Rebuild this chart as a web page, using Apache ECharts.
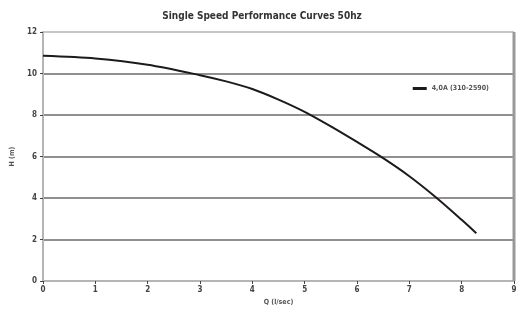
<!DOCTYPE html>
<html>
<head>
    <meta charset="utf-8">
    <title>Single Speed Performance Curves 50hz</title>
    <script src="https://cdn.jsdelivr.net/npm/echarts@6/dist/echarts.min.js"></script>
    <style>
        html, body { margin: 0; padding: 0; background: #fff; }
        #chart { width: 524px; height: 311px; }
    </style>
</head>
<body>
<div id="chart"></div>
<script type="text/javascript">
    // 曲线数据 (Q l/sec, H m)
    var flowQ = [0, 1, 2, 3, 3.5, 4, 4.5, 5, 5.5, 6, 6.5, 7, 7.5, 8, 8.28];
    var headH = [10.85, 10.72, 10.42, 9.92, 9.62, 9.25, 8.74, 8.15, 7.45, 6.7, 5.92, 5.05, 4.05, 2.95, 2.3];
    var seriesName = '4,0A (310-2590)';
    var titleText = 'Single Speed Performance Curves 50hz';

    var points = [];
    for (var i = 0; i < flowQ.length; i++) {
        points.push([flowQ[i], headH[i]]);
    }

    var font = '"Liberation Sans Narrow", "DejaVu Sans Condensed", sans-serif';
    var chart = echarts.init(document.getElementById('chart'));
    chart.setOption({
        animation: false,
        title: {
            text: titleText,
            left: 'center',
            top: 6,
            textStyle: { fontFamily: font, fontSize: 10, fontWeight: 'bold', color: '#333' }
        },
        legend: {
            data: [seriesName],
            right: 30,
            top: 80,
            itemWidth: 14,
            itemHeight: 3,
            icon: 'rect',
            textStyle: { fontFamily: font, fontSize: 7, fontWeight: 'bold', color: '#555' }
        },
        grid: {
            left: 43, right: 10, top: 32, bottom: 30,
            show: true,
            borderWidth: 0
        },
        xAxis: {
            type: 'value',
            min: 0, max: 9, interval: 1,
            name: 'Q (l/sec)',
            nameLocation: 'middle',
            nameGap: 16,
            nameTextStyle: { fontFamily: font, fontSize: 7, fontWeight: 'bold', color: '#555' },
            axisLine: { lineStyle: { color: '#b5b5b5', width: 2 } },
            axisTick: { show: true, length: 3, lineStyle: { color: '#444' } },
            axisLabel: { fontFamily: font, fontSize: 8, fontWeight: 'bold', color: '#444', margin: 5 },
            splitLine: { show: false }
        },
        yAxis: {
            type: 'value',
            min: 0, max: 12, interval: 2,
            name: 'H (m)',
            nameLocation: 'middle',
            nameGap: 19,
            nameTextStyle: { fontFamily: font, fontSize: 7, fontWeight: 'bold', color: '#555' },
            axisLine: { show: true, lineStyle: { color: '#b5b5b5', width: 2 } },
            axisTick: { show: true, length: 3, lineStyle: { color: '#444' } },
            axisLabel: { fontFamily: font, fontSize: 8, fontWeight: 'bold', color: '#444', margin: 6 },
            splitLine: {
                show: true,
                lineStyle: {
                    color: ['#b5b5b5', '#6e6a6c', '#6e6a6c', '#6e6a6c', '#6e6a6c', '#6e6a6c', '#b5b5b5'],
                    width: 1.6
                }
            }
        },
        series: [{
            name: seriesName,
            type: 'line',
            data: points,
            smooth: 0.3,
            showSymbol: false,
            lineStyle: { color: '#1e1a1c', width: 2 },
            itemStyle: { color: '#1e1a1c' }
        }, {
            // 右侧边框
            type: 'line',
            data: [[9, 0], [9, 12]],
            showSymbol: false,
            silent: true,
            lineStyle: { color: '#999', width: 3 }
        }]
    });
</script>
</body>
</html>
